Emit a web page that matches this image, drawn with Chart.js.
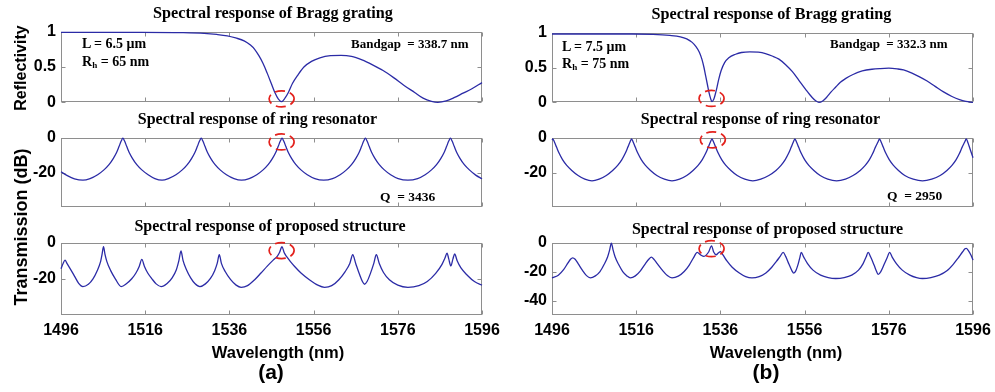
<!DOCTYPE html>
<html><head><meta charset="utf-8">
<script src="https://cdn.jsdelivr.net/npm/chart.js@4/dist/chart.umd.min.js"></script>
<style>
body{margin:0;background:#fff;width:995px;height:392px;position:relative;overflow:hidden}
.t{position:absolute;font-family:"Liberation Serif","Times New Roman",serif;font-weight:bold;white-space:nowrap;color:#000;line-height:1}
.s{position:absolute;font-family:"Liberation Sans",Arial,sans-serif;font-weight:bold;white-space:nowrap;color:#000;line-height:1}
.c{transform:translate(-50%,-50%)}
.v{transform:translate(-50%,-50%) rotate(-90deg)}
.l{transform:translateY(-50%)}
sub{font-size:65%;vertical-align:-2px;line-height:0}
canvas{position:absolute}
</style></head><body>
<script>
// ---- data ----
const xTicks = [1496, 1516, 1536, 1556, 1576, 1596];
const reflTicks = [0, 0.5, 1];
const transTicks = [-20, 0];
const transTicksB3 = [-40, -20, 0];

// (a) Bragg grating reflectivity, L = 6.5 um
const braggA = [[1496,0.99],[1505,0.99],[1515,0.99],[1525,0.985],[1530,0.975],[1533,0.96],[1535.5,0.94],[1537.5,0.91],[1539.5,0.87],[1541,0.81],[1542,0.75],[1543,0.66],[1544,0.55],[1545,0.41],[1546,0.26],[1546.8,0.14],[1547.6,0.05],[1548.4,0.01],[1549.2,0.06],[1550,0.14],[1551,0.27],[1552.3,0.39],[1553.7,0.5],[1555.5,0.58],[1557.5,0.63],[1560,0.66],[1562.5,0.665],[1565,0.65],[1567.5,0.6],[1570,0.53],[1572.5,0.45],[1575,0.35],[1577.5,0.24],[1580,0.14],[1582,0.06],[1584,0.015],[1585.5,0],[1587.5,0.02],[1589.5,0.07],[1591.5,0.13],[1593.5,0.19],[1596,0.28]];

// (a) ring resonator transmission (dB), Q = 3436
const ringA = [[1496,-19.6],[1497.5,-21.8],[1499.2,-23.6],[1501.2,-24.4],[1502.9,-23.5],[1504.7,-21.3],[1506.2,-18.5],[1507.4,-15.5],[1508.4,-12],[1509.2,-8.5],[1509.8,-5],[1510.3,-2],[1510.7,-0.3],
[1511.1,-2],[1511.6,-5],[1512.2,-8.5],[1513,-12],[1514,-15.5],[1515.2,-18.5],[1516.7,-21.3],[1518.3,-23.5],[1520,-24.4],[1521.5,-23.5],[1523.3,-21.3],[1524.8,-18.5],[1526,-15.5],[1527,-12],[1527.8,-8.5],[1528.4,-5],[1528.9,-2],[1529.3,-0.3],
[1529.7,-2],[1530.2,-5],[1530.8,-8.5],[1531.6,-12],[1532.6,-15.5],[1533.8,-18.5],[1535.3,-21.3],[1537.1,-23.5],[1538.9,-24.4],[1540.7,-23.5],[1542.5,-21.3],[1544,-18.5],[1545.2,-15.5],[1546.2,-12],[1547,-8.5],[1547.6,-5],[1548.1,-2],[1548.5,-0.3],
[1548.9,-2],[1549.4,-5],[1550,-8.5],[1550.8,-12],[1551.8,-15.5],[1553,-18.5],[1554.5,-21.3],[1556.3,-23.5],[1558.4,-24.4],[1560.5,-23.5],[1562.3,-21.3],[1563.8,-18.5],[1565,-15.5],[1566,-12],[1566.8,-8.5],[1567.4,-5],[1567.9,-2],[1568.3,-0.3],
[1568.7,-2],[1569.2,-5],[1569.8,-8.5],[1570.6,-12],[1571.6,-15.5],[1572.8,-18.5],[1574.3,-21.3],[1576.1,-23.5],[1578.4,-24.4],[1580.7,-23.5],[1582.5,-21.3],[1584,-18.5],[1585.2,-15.5],[1586.2,-12],[1587,-8.5],[1587.6,-5],[1588.1,-2],[1588.5,-0.3],
[1588.9,-2],[1589.4,-5],[1590,-8.5],[1590.8,-12],[1591.8,-15.5],[1593,-18.5],[1594.5,-21.5],[1596,-23.6]];

// (a) proposed structure transmission (dB)
const structA = [[1496,-14.5],[1496.5,-11.5],[1496.95,-9.7],[1497.45,-11.6],[1498.2,-14.5],[1499.2,-18.5],[1500.2,-22.5],[1501.2,-24.3],[1502.5,-23],[1503.6,-20],[1504.6,-15.5],[1505.4,-10.5],[1505.75,-6.5],[1506.1,-2.3],[1506.45,-6.5],[1506.9,-10.5],[1507.8,-15.5],[1508.9,-20],[1510.3,-24.3],[1511.6,-22.6],[1512.8,-20],[1513.8,-16.8],[1514.6,-13],[1515.2,-9.3],[1515.8,-13],[1516.6,-16.8],[1517.6,-20],[1518.6,-22.8],[1519.8,-24.3],[1521.2,-22.6],[1522.4,-19.5],[1523.4,-15],[1524,-10],[1524.5,-4.6],[1525,-10],[1525.8,-15],[1526.8,-19.5],[1527.8,-22.6],[1529,-24.3],[1530.3,-22.8],[1531.5,-19.8],[1532.5,-15.5],[1533.1,-11.5],[1533.6,-6.7],[1534.1,-11.5],[1535,-16],[1536.3,-20.5],[1537.6,-23.5],[1538.8,-24.7],[1540.3,-23.8],[1542,-20.5],[1543.5,-16.8],[1545,-13],[1546.4,-9.7],[1547.4,-7.5],[1547.9,-5.5],[1548.5,-2.3],[1549,-5.5],[1549.6,-7.8],[1550.5,-10.5],[1551.5,-13.2],[1553,-16.8],[1555,-20.5],[1557,-23.5],[1558.6,-24.7],[1560.3,-23.8],[1562,-20.5],[1563.5,-16],[1564.6,-11.5],[1565.3,-6.7],[1566,-11.5],[1566.9,-17.5],[1567.6,-21.5],[1568.1,-23],[1568.7,-21.5],[1569.5,-17],[1570.3,-11.5],[1570.9,-6.7],[1571.6,-11.5],[1572.6,-16.5],[1574,-20.5],[1576,-23.5],[1578.4,-24.7],[1581,-23.8],[1583,-21.5],[1585,-17],[1586.5,-12],[1587.2,-8.5],[1587.7,-5.8],[1588.1,-9],[1588.6,-12.9],[1589.1,-9],[1589.5,-6.3],[1590.1,-10],[1591,-14],[1592.5,-18],[1594.2,-21.5],[1596,-23.5]];

// (b) Bragg grating reflectivity, L = 7.5 um
const braggB = [[1496,0.98],[1505,0.98],[1515,0.98],[1520,0.975],[1524,0.96],[1526.5,0.94],[1528,0.91],[1529.3,0.86],[1530.2,0.8],[1531,0.72],[1531.6,0.62],[1532.1,0.5],[1532.5,0.38],[1532.9,0.26],[1533.3,0.14],[1533.7,0.05],[1534,0.01],[1534.4,0.04],[1534.8,0.12],[1535.2,0.22],[1535.6,0.33],[1536.2,0.46],[1537,0.57],[1538,0.64],[1539.6,0.69],[1541,0.715],[1543,0.725],[1545,0.72],[1546.7,0.7],[1548.3,0.665],[1549.9,0.62],[1551.5,0.54],[1553.1,0.44],[1554.6,0.32],[1556.2,0.19],[1557.8,0.07],[1558.7,0.02],[1559.4,0],[1560.3,0.02],[1561.2,0.07],[1562.3,0.15],[1563.4,0.22],[1564.5,0.29],[1565.7,0.34],[1567.5,0.4],[1569.7,0.45],[1572,0.475],[1574,0.485],[1576,0.49],[1578,0.48],[1579.5,0.465],[1581.5,0.42],[1583.2,0.37],[1585,0.31],[1587,0.23],[1589,0.15],[1591,0.085],[1592.8,0.04],[1594.3,0.015],[1596,0]];

// (b) ring resonator transmission (dB), Q = 2950
const ringB = [[1496,-1.5],[1496.2,-0.8],[1496.6,-2.7],[1497.1,-5.6],[1497.7,-9],[1498.5,-12.6],[1499.5,-15.9],[1500.7,-18.8],[1502.2,-21.7],[1503.8,-23.8],[1505.5,-24.8],[1507.2,-23.8],[1508.9,-21.7],[1510.4,-18.8],[1511.6,-15.9],[1512.6,-12.6],[1513.4,-9],[1514,-5.6],[1514.5,-2.7],[1514.9,-0.8],
[1515.3,-2.7],[1515.8,-5.6],[1516.4,-9],[1517.2,-12.6],[1518.2,-15.9],[1519.4,-18.8],[1520.9,-21.7],[1522.7,-23.8],[1524.5,-24.8],[1526.3,-23.8],[1528,-21.7],[1529.5,-18.8],[1530.7,-15.9],[1531.7,-12.6],[1532.5,-9],[1533.1,-5.6],[1533.6,-2.7],[1534,-0.8],
[1534.4,-2.7],[1534.9,-5.6],[1535.5,-9],[1536.3,-12.6],[1537.3,-15.9],[1538.5,-18.8],[1540,-21.7],[1541.8,-23.8],[1543.7,-24.8],[1545.6,-23.8],[1547.5,-21.7],[1549.2,-18.8],[1550.4,-15.9],[1551.4,-12.6],[1552.2,-9],[1552.8,-5.6],[1553.3,-2.7],[1553.7,-0.8],
[1554.1,-2.7],[1554.6,-5.6],[1555.2,-9],[1556,-12.6],[1557,-15.9],[1558.2,-18.8],[1559.7,-21.7],[1561.5,-23.8],[1563.6,-24.8],[1565.7,-23.8],[1567.5,-21.7],[1569.2,-18.8],[1570.4,-15.9],[1571.4,-12.6],[1572.2,-9],[1572.8,-5.6],[1573.4,-2.7],[1573.8,-0.8],
[1574.2,-2.7],[1574.7,-5.6],[1575.3,-9],[1576.1,-12.6],[1577.1,-15.9],[1578.3,-18.8],[1579.8,-21.7],[1581.8,-23.8],[1584,-24.8],[1586.2,-23.8],[1588.2,-21.7],[1589.8,-18.8],[1591,-15.9],[1592,-12.6],[1592.8,-9],[1593.4,-5.6],[1594,-2.7],[1594.4,-0.8],
[1594.8,-2.9],[1595.3,-6.5],[1596,-11.5]];

// (b) proposed structure transmission (dB)
const structB = [[1496,-24.4],[1497.5,-22.5],[1498.8,-18.5],[1499.8,-14],[1500.4,-11.5],[1500.9,-10.5],[1501.5,-11.5],[1502.2,-14.5],[1503.2,-19],[1504.2,-22.8],[1505.1,-24.4],[1506.3,-23],[1507.4,-20],[1508.4,-15],[1509.2,-10],[1509.7,-5],[1510.1,-0.3],[1510.5,-5],[1511,-10],[1511.8,-15],[1512.8,-20],[1513.8,-23],[1514.6,-24.4],[1515.8,-23],[1517,-19.5],[1518.2,-14.5],[1519,-11.5],[1519.6,-10.1],[1520.2,-11.5],[1521,-14.5],[1522.2,-19],[1523.4,-22.8],[1524.5,-24.4],[1526,-23.2],[1527.4,-20],[1528.6,-15.5],[1529.6,-10.5],[1530.5,-6.8],[1531.3,-8.5],[1532.1,-9.5],[1533.2,-6.5],[1533.9,-2.2],[1534.4,-6.5],[1535,-8.4],[1535.5,-7.2],[1536,-6.2],[1536.6,-8.5],[1537.5,-12.5],[1538.8,-17],[1540.5,-21],[1542,-23.5],[1543.5,-24.4],[1545.2,-23.5],[1546.8,-21],[1548.2,-17],[1549.3,-13],[1550.2,-9.5],[1550.9,-6.8],[1551.5,-9.5],[1552.3,-15],[1553,-19.5],[1553.4,-21.1],[1553.9,-19.5],[1554.5,-14.5],[1554.9,-10],[1555.2,-6.8],[1555.8,-10],[1556.7,-14.5],[1558,-19],[1559.8,-22.5],[1561.6,-24.2],[1563.4,-24.8],[1565.4,-24.2],[1567.2,-22.5],[1568.8,-19],[1569.9,-14.5],[1570.6,-10],[1571.1,-6.8],[1571.7,-10],[1572.5,-15.5],[1573.1,-20],[1573.5,-22],[1574.1,-20],[1574.9,-15],[1575.6,-10.5],[1576.2,-6.8],[1576.8,-10],[1577.8,-14.5],[1579.2,-19],[1581,-22.5],[1582.6,-24.2],[1584,-24.8],[1586,-24.2],[1588,-22.5],[1589.8,-19.5],[1591.3,-15],[1592.5,-10.5],[1593.5,-6.5],[1594.1,-4.3],[1594.4,-4],[1594.9,-5.5],[1595.5,-8.5],[1596,-12.1]];

// marked features (wavelength, value) for the red dashed ellipses
const markA = [[1548.4, 0.05], [1548.4, -2.5], [1548.4, -4.4]];
const markB = [[1533.9, 0.057], [1534.2, -1.3], [1533.9, -4.2]];

// ---- drawing ----
const SANS = '"Liberation Sans", Arial, sans-serif';
const framePlugin = {
  id: 'frame',
  beforeDatasetsDraw(chart) {
    const {ctx, chartArea: a, scales: {x, y}} = chart;
    ctx.save();
    ctx.strokeStyle = '#8e8e8e';
    ctx.lineWidth = 1;
    const L = Math.round(a.left) + 0.5, R = Math.round(a.right) - 0.5, T = Math.round(a.top) + 0.5, B = Math.round(a.bottom) - 0.5;
    ctx.strokeRect(L, T, R - L, B - T);
    ctx.beginPath();
    x.ticks.forEach(t => {
      const p = Math.round(x.getPixelForValue(t.value)) + 0.5;
      ctx.moveTo(p, T); ctx.lineTo(p, T + 4);
      ctx.moveTo(p, B); ctx.lineTo(p, B - 4);
    });
    y.ticks.forEach(t => {
      const p = Math.round(y.getPixelForValue(t.value)) + 0.5;
      ctx.moveTo(L, p); ctx.lineTo(L + 4, p);
      ctx.moveTo(R, p); ctx.lineTo(R - 4, p);
    });
    ctx.stroke();
    ctx.restore();
  }
};
const markerPlugin = {
  id: 'marker',
  afterDatasetsDraw(chart, args, opts) {
    if (!opts || !opts.at) return;
    const {ctx, scales: {x, y}} = chart;
    const cx = x.getPixelForValue(opts.at[0]), cy = y.getPixelForValue(opts.at[1]);
    ctx.save();
    ctx.strokeStyle = '#e3211c';
    ctx.lineWidth = 1.7;
    ctx.setLineDash([10, 5]);
    ctx.lineDashOffset = 3;
    ctx.beginPath();
    ctx.ellipse(cx, cy, 12.5, 8, 0, 0, Math.PI * 2);
    ctx.stroke();
    ctx.restore();
  }
};

function panel(box, pts, yMin, yMax, yTicks, showX, mark) {
  const c = document.createElement('canvas');
  const W = box.w + 52 + 24, H = box.h + 12 + (showX ? 34 : 12);
  c.width = W; c.height = H;
  c.style.left = (box.l - 52) + 'px'; c.style.top = (box.t - 12) + 'px';
  c.style.width = W + 'px'; c.style.height = H + 'px';
  document.body.appendChild(c);
  const tickFont = {family: SANS, size: 16, weight: 'bold'};
  new Chart(c, {
    type: 'line',
    data: {datasets: [{
      data: pts.map(p => ({x: p[0], y: p[1]})),
      borderColor: '#2b2ba6', borderWidth: 1.3, pointRadius: 0,
      cubicInterpolationMode: 'monotone', fill: false, clip: 3
    }]},
    options: {
      responsive: false, animation: false, events: [],
      layout: {padding: {left: 0, right: 24, top: 12, bottom: showX ? 0 : 12}},
      plugins: {legend: {display: false}, tooltip: {enabled: false}, marker: {at: mark}},
      scales: {
        x: {
          type: 'linear', min: 1496, max: 1596,
          afterBuildTicks: s => { s.ticks = xTicks.map(v => ({value: v})); },
          afterFit: s => { s.height = showX ? 34 : 0; },
          grid: {display: false, drawTicks: false}, border: {display: false},
          ticks: {display: showX, padding: 6, color: '#000', font: tickFont, autoSkip: false, maxRotation: 0, callback: v => String(v)}
        },
        y: {
          type: 'linear', min: yMin, max: yMax,
          afterBuildTicks: s => { s.ticks = yTicks.map(v => ({value: v})); },
          afterFit: s => { s.width = 52; },
          grid: {display: false, drawTicks: false}, border: {display: false},
          ticks: {padding: 5, color: '#000', font: tickFont, callback: v => String(v)}
        }
      }
    },
    plugins: [framePlugin, markerPlugin]
  });
}

panel({l: 61, t: 29, w: 421, h: 76}, braggA, 0, 1, reflTicks, false, markA[0]);
panel({l: 61, t: 135, w: 421, h: 75}, ringA, -40, 0, transTicks, false, markA[1]);
panel({l: 61, t: 240, w: 421, h: 75}, structA, -40, 0, transTicks, true, markA[2]);
panel({l: 552, t: 30, w: 421, h: 75}, braggB, 0, 1, reflTicks, false, markB[0]);
panel({l: 552, t: 135, w: 421, h: 75}, ringB, -40, 0, transTicks, false, markB[1]);
panel({l: 552, t: 240, w: 421, h: 75}, structB, -50, 0, transTicksB3, true, markB[2]);
</script>

<div class="t c" style="left:273px;top:13px;font-size:16.2px">Spectral response of Bragg grating</div>
<div class="t c" style="left:257.5px;top:118.5px;font-size:16px">Spectral response of ring resonator</div>
<div class="t c" style="left:270px;top:226px;font-size:16px">Spectral response of proposed structure</div>
<div class="t c" style="left:771.5px;top:14px;font-size:16.2px">Spectral response of Bragg grating</div>
<div class="t c" style="left:760.5px;top:118.5px;font-size:16px">Spectral response of ring resonator</div>
<div class="t c" style="left:767.5px;top:229px;font-size:16px">Spectral response of proposed structure</div>

<div class="t l" style="left:82px;top:44px;font-size:14px">L = 6.5 μm</div>
<div class="t l" style="left:82px;top:62px;font-size:14px">R<sub>h</sub> = 65 nm</div>
<div class="t l" style="left:351px;top:43px;font-size:13px">Bandgap &nbsp;= 338.7 nm</div>
<div class="t l" style="left:380px;top:197px;font-size:13.5px">Q &nbsp;= 3436</div>
<div class="t l" style="left:562px;top:47px;font-size:14px">L = 7.5 μm</div>
<div class="t l" style="left:562px;top:64px;font-size:14px">R<sub>h</sub> = 75 nm</div>
<div class="t l" style="left:830px;top:43px;font-size:13px">Bandgap &nbsp;= 332.3 nm</div>
<div class="t l" style="left:887px;top:196px;font-size:13.5px">Q &nbsp;= 2950</div>

<div class="s v" style="left:21px;top:67.5px;font-size:16px">Reflectivity</div>
<div class="s v" style="left:21px;top:227px;font-size:18px">Transmission (dB)</div>
<div class="s c" style="left:278px;top:352px;font-size:16.5px">Wavelength (nm)</div>
<div class="s c" style="left:776px;top:352px;font-size:16.5px">Wavelength (nm)</div>
<div class="s c" style="left:271px;top:371px;font-size:21px">(a)</div>
<div class="s c" style="left:766px;top:371px;font-size:21px">(b)</div>
</body></html>
